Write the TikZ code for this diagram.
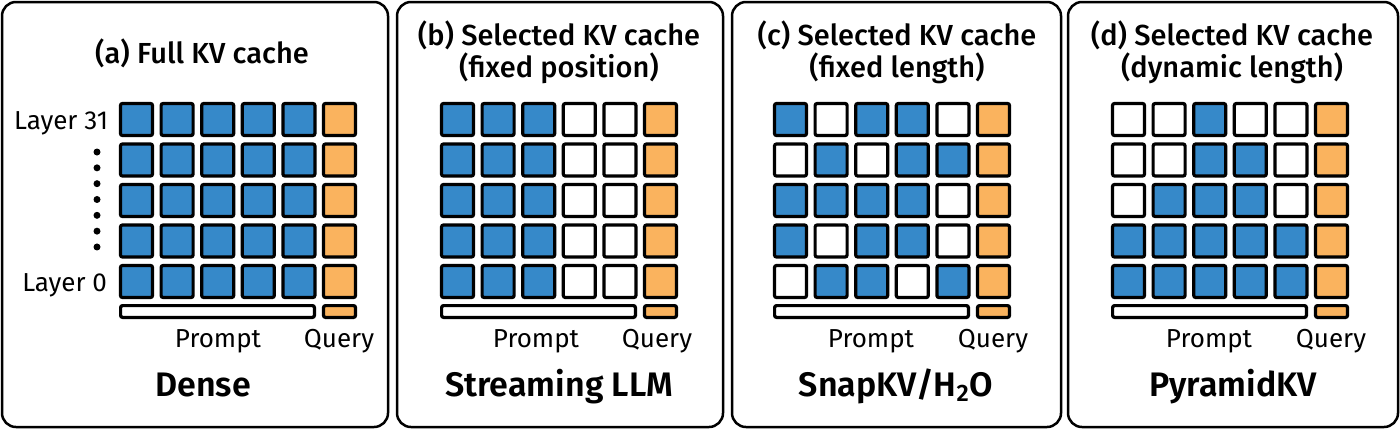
\documentclass[tikz,border=0pt]{standalone}
\usepackage{fontspec}
\setmainfont{Fira Sans}
\newfontfamily\medfont{Fira Sans Medium}
\newfontfamily\semifont{Fira Sans SemiBold}
\usetikzlibrary{positioning}
\definecolor{kvblue}{HTML}{3689C9}
\definecolor{kvorange}{HTML}{FAB35E}

\begin{document}
\begin{tikzpicture}[
        x=0.5pt, y=-0.5pt,
        every node/.style={inner sep=0pt, outer sep=0pt},
        panelbox/.style={draw, line width=1.25pt, rounded corners=7pt},
        kvcell/.style={draw, line width=1.6pt, minimum size=16pt, rounded corners=1pt},
        kv1/.style={fill=kvblue},
        kv0/.style={fill=white},
        querycell/.style={kvcell, fill=kvorange},
        promptbar/.style={draw, line width=1.6pt, fill=white, minimum width=96.9pt, minimum height=5.9pt, rounded corners=1pt},
        querybar/.style={draw, line width=1.6pt, fill=kvorange, minimum width=16pt, minimum height=5.9pt, rounded corners=1pt},
        titletext/.style={anchor=base, font=\medfont\fontsize{14.5}{17}\selectfont},
        smalltext/.style={anchor=base, font=\fontsize{13}{16}\selectfont},
        methodtext/.style={anchor=base, font=\semifont\fontsize{17}{20}\selectfont}
      ]
        \useasboundingbox (0,0) rectangle (1400,429);

        % Panel frames
        \draw [panelbox] (2,2) rectangle (388,427);
        \draw [panelbox] (397,2) rectangle (723,427);
        \draw [panelbox] (732,2) rectangle (1061,427);
        \draw [panelbox] (1068,2) rectangle (1398,427);

        % (a) Full KV cache
        \node (a_title) [titletext] at (202,63) {(a) Full KV cache};
        \foreach \r in {0,...,4} {
          \foreach \c in {0,...,4} {
            \node (a_\r_\c) [kvcell, kv1] at ({119+17.5+\c*40.6}, {119.5+\r*40.5}) {};
          }
          \node (a_q\r) [querycell] at ({119+220.5}, {119.5+\r*40.5}) {};
        }
        \node (a_prompt) [promptbar] at ({119+98.5}, 311.5) {};
        \node (a_query) [querybar] at ({119+220.5}, 311.5) {};
        \node (a_layer31) [smalltext, anchor=base east] at (108,129.5) {Layer 31};
        \node (a_layer0) [smalltext, anchor=base east] at (107,291.5) {Layer 0};
        \foreach \k in {0,...,6}
          \fill (97,{152+\k*15.83}) circle (1.75pt);
        \node (a_prompt_lbl) [smalltext] at (218,347) {Prompt};
        \node (a_query_lbl) [smalltext] at (339,347) {Query};
        \node (a_name) [methodtext] at (203,396) {Dense};

        % (b) Selected KV cache, fixed position
        \node (b_title1) [titletext] at (559,45) {(b) Selected KV cache};
        \node (b_title2) [titletext] at (559,77) {(fixed position)};
        \foreach \r/\pattern in {0/{1,1,1,0,0}, 1/{1,1,1,0,0}, 2/{1,1,1,0,0}, 3/{1,1,1,0,0}, 4/{1,1,1,0,0}} {
          \foreach \v [count=\c from 0] in \pattern {
            \node (b_\r_\c) [kvcell, kv\v] at ({440+17.5+\c*40.6}, {119.5+\r*40.5}) {};
          }
          \node (b_q\r) [querycell] at ({440+220.5}, {119.5+\r*40.5}) {};
        }
        \node (b_prompt) [promptbar] at ({440+98.5}, 311.5) {};
        \node (b_query) [querybar] at ({440+220.5}, 311.5) {};
        \node (b_prompt_lbl) [smalltext] at (536,347) {Prompt};
        \node (b_query_lbl) [smalltext] at (657,347) {Query};
        \node (b_name) [methodtext] at (559,396) {Streaming LLM};

        % (c) Selected KV cache, fixed length
        \node (c_title1) [titletext] at (897,45) {(c) Selected KV cache};
        \node (c_title2) [titletext] at (897,77) {(fixed length)};
        \foreach \r/\pattern in {0/{1,0,1,1,0}, 1/{0,1,0,1,1}, 2/{1,1,1,1,0}, 3/{1,0,1,1,0}, 4/{0,1,1,0,1}} {
          \foreach \v [count=\c from 0] in \pattern {
            \node (c_\r_\c) [kvcell, kv\v] at ({773+17.5+\c*40.6}, {119.5+\r*40.5}) {};
          }
          \node (c_q\r) [querycell] at ({773+220.5}, {119.5+\r*40.5}) {};
        }
        \node (c_prompt) [promptbar] at ({773+98.5}, 311.5) {};
        \node (c_query) [querybar] at ({773+220.5}, 311.5) {};
        \node (c_prompt_lbl) [smalltext] at (871,347) {Prompt};
        \node (c_query_lbl) [smalltext] at (993,347) {Query};
        \node (c_name) [methodtext] at (896,396) {SnapKV/H\textsubscript{2}O};

        % (d) Selected KV cache, dynamic length
        \node (d_title1) [titletext] at (1232,45) {(d) Selected KV cache};
        \node (d_title2) [titletext] at (1232,77) {(dynamic length)};
        \foreach \r/\pattern in {0/{0,0,1,0,0}, 1/{0,0,1,1,0}, 2/{0,1,1,1,0}, 3/{1,1,1,1,1}, 4/{1,1,1,1,1}} {
          \foreach \v [count=\c from 0] in \pattern {
            \node (d_\r_\c) [kvcell, kv\v] at ({1111+17.5+\c*40.6}, {119.5+\r*40.5}) {};
          }
          \node (d_q\r) [querycell] at ({1111+220.5}, {119.5+\r*40.5}) {};
        }
        \node (d_prompt) [promptbar] at ({1111+98.5}, 311.5) {};
        \node (d_query) [querybar] at ({1111+220.5}, 311.5) {};
        \node (d_prompt_lbl) [smalltext] at (1209,347) {Prompt};
        \node (d_query_lbl) [smalltext] at (1331,347) {Query};
        \node (d_name) [methodtext] at (1233,396) {PyramidKV};
      \end{tikzpicture}
\end{document}
